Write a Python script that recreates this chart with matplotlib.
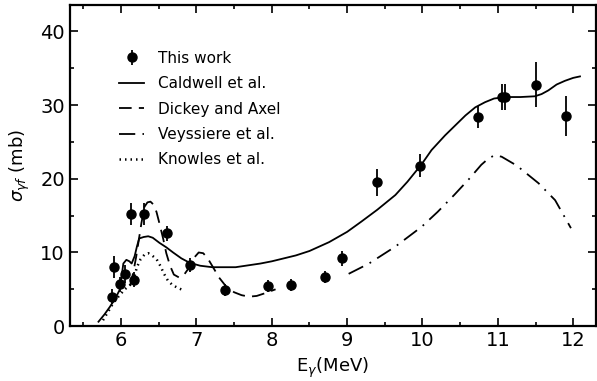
import numpy as np
import matplotlib
matplotlib.use("Agg")
import matplotlib.pyplot as plt
from matplotlib.ticker import MultipleLocator

# measured points (this work)
e_pts = [5.88, 5.91, 5.98, 6.05, 6.13, 6.17, 6.30, 6.61, 6.91, 7.38,
         7.95, 8.26, 8.71, 8.93, 9.39, 9.97, 10.74, 11.06, 11.10, 11.50, 11.90]
s_pts = [4.0, 8.0, 5.7, 7.1, 15.2, 6.3, 15.2, 12.6, 8.3, 4.9,
         5.5, 5.6, 6.7, 9.2, 19.5, 21.8, 28.4, 31.1, 31.1, 32.8, 28.5]
s_err = [1.0, 1.5, 1.0, 1.2, 1.5, 1.0, 1.5, 1.0, 1.0, 0.8,
         0.8, 0.8, 0.8, 1.0, 1.8, 1.5, 1.5, 1.8, 1.8, 3.0, 2.7]

# Caldwell et al.
e_cald = [5.70, 5.78, 5.85, 5.92, 5.98, 6.01, 6.03, 6.07, 6.11, 6.14, 6.18, 6.21,
          6.24, 6.30, 6.36, 6.42, 6.51, 6.60, 6.69, 6.80, 6.91, 7.05, 7.21, 7.52,
          7.85, 8.00, 8.32, 8.50, 8.76, 9.00, 9.19, 9.40, 9.64, 9.80, 9.99, 10.12,
          10.30, 10.57, 10.70, 10.83, 10.95, 11.10, 11.30, 11.49, 11.58, 11.67,
          11.78, 11.89, 12.00, 12.09]
s_cald = [0.6, 1.6, 2.6, 3.7, 4.9, 7.0, 8.5, 9.0, 8.8, 8.5, 9.5, 10.8,
          11.9, 12.1, 12.2, 12.0, 11.3, 10.7, 10.0, 9.2, 8.6, 8.2, 8.0, 8.0,
          8.5, 8.8, 9.6, 10.2, 11.4, 12.8, 14.2, 15.8, 17.8, 19.6, 22.0, 23.9,
          25.9, 28.6, 29.7, 30.4, 30.9, 31.1, 31.1, 31.2, 31.5, 32.0,
          32.8, 33.3, 33.7, 33.9]

# Dickey and Axel
e_dick = [6.12, 6.16, 6.20, 6.27, 6.31, 6.35, 6.39, 6.43, 6.47, 6.51, 6.56,
          6.60, 6.65, 6.70, 6.77, 6.83, 6.90, 6.97, 7.03, 7.09, 7.15, 7.22,
          7.30, 7.40, 7.50, 7.60, 7.70, 7.80, 7.92, 8.05]
s_dick = [5.5, 7.2, 9.4, 14.0, 16.2, 16.8, 16.9, 16.5, 15.5, 13.9, 11.8,
          9.9, 8.2, 7.0, 6.6, 6.9, 7.9, 9.3, 10.0, 9.9, 9.2, 8.0,
          6.6, 5.3, 4.6, 4.2, 4.0, 4.1, 4.5, 5.0]

# Veyssiere et al.
e_vey = [9.02, 9.29, 9.64, 9.99, 10.20, 10.42, 10.62, 10.78, 10.88, 10.96, 11.05,
         11.25, 11.54, 11.76, 11.97]
s_vey = [7.1, 8.5, 10.8, 13.5, 15.5, 17.8, 20.0, 21.9, 22.8, 23.2, 23.0,
         21.8, 19.4, 17.1, 13.3]

# Knowles et al.
e_know = [5.76, 5.83, 5.90, 5.98, 6.05, 6.12, 6.17, 6.21, 6.26, 6.31, 6.36,
          6.41, 6.47, 6.52, 6.57, 6.62, 6.68, 6.75, 6.82]
s_know = [0.8, 2.0, 3.2, 4.2, 5.0, 5.6, 6.5, 8.0, 9.1, 9.7, 9.9,
          9.6, 9.1, 8.2, 7.1, 6.2, 5.6, 5.2, 4.9]

plt.rcParams['font.family'] = 'DejaVu Sans'
fig = plt.figure(figsize=(5.97, 3.81), dpi=100)
ax = fig.add_axes([0.117, 0.144, 0.881, 0.843])

ax.plot(e_cald, s_cald, color='black', lw=1.3, ls='-', label='Caldwell et al.')
ax.plot(e_dick, s_dick, color='black', lw=1.3, ls=(0, (7, 4)), label='Dickey and Axel')
ax.plot(e_vey, s_vey, color='black', lw=1.3, ls=(0, (9, 4, 1, 4)), label='Veyssiere et al.')
ax.plot(e_know, s_know, color='black', lw=1.8, ls=(0, (0.6, 1.6)), label='Knowles et al.')
ax.errorbar(e_pts, s_pts, yerr=s_err, fmt='o', color='black', ms=6.5,
            elinewidth=1.3, capsize=0, label='This work', zorder=5)

handles, labels = ax.get_legend_handles_labels()
order = [4, 0, 1, 2, 3]
ax.legend([handles[i] for i in order], [labels[i] for i in order],
          loc='upper left', bbox_to_anchor=(0.068, 0.90), frameon=False,
          fontsize=11, handlelength=1.6, handletextpad=0.9, labelspacing=0.68)

ax.set_xlim(5.32, 12.3)
ax.set_ylim(0, 43.6)
ax.xaxis.set_major_locator(MultipleLocator(1))
ax.xaxis.set_minor_locator(MultipleLocator(0.5))
ax.yaxis.set_major_locator(MultipleLocator(10))
ax.yaxis.set_minor_locator(MultipleLocator(5))
ax.tick_params(which='both', direction='in', top=True, right=True, labelsize=14, width=1.2)
ax.tick_params(which='major', length=6)
ax.tick_params(which='minor', length=3)
for sp in ax.spines.values():
    sp.set_linewidth(1.6)

ax.set_xlabel(r'E$_\gamma$(MeV)', fontsize=13, labelpad=4)
ax.set_ylabel(r'$\sigma_{\gamma f}$ (mb)', fontsize=13, labelpad=6)

fig.savefig('out.png', dpi=100)
